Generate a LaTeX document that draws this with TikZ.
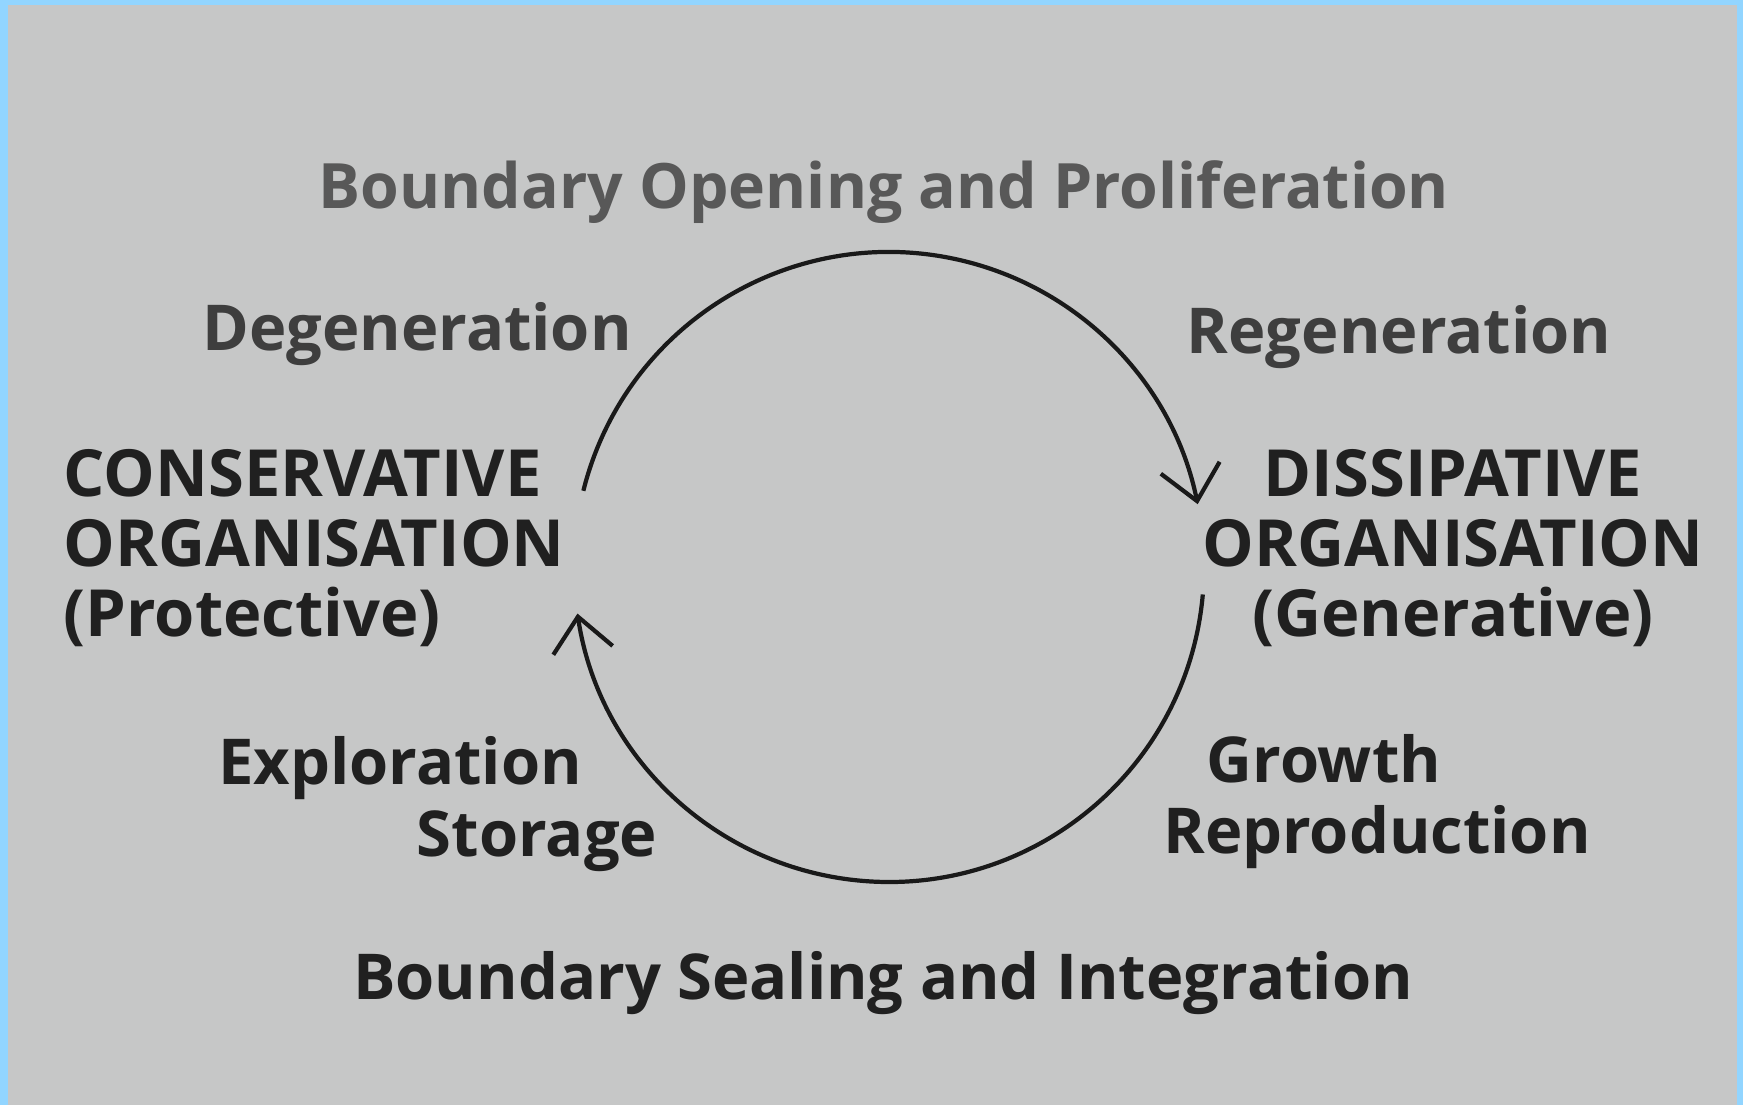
\documentclass[tikz,border=0pt]{standalone}
\usepackage{fontspec}
\setmainfont{Open Sans}
\usepackage{xcolor}
\usepackage{tikz}
\usetikzlibrary{arrows.meta,calc,positioning}

\definecolor{framesky}{RGB}{146,213,255}
\definecolor{paper}{RGB}{198,199,199}
\definecolor{inkdark}{RGB}{32,32,32}
\definecolor{inkmid}{RGB}{62,62,62}
\definecolor{inklight}{RGB}{88,88,88}

\tikzset{
  label/.style={font=\fontsize{18}{21}\selectfont\bfseries, text=inkdark, inner sep=0pt},
  statebox/.style={label, font=\fontsize{18.5}{20}\selectfont\bfseries},
  cyclearc/.style={line width=1.2pt, draw=black!90, -{Straight Barb[length=3.4mm, width=6mm, line width=1.2pt]}},
}

\begin{document}
\begin{tikzpicture}
		% Background: blue frame and the grey sheet
		\fill[framesky] (0,0) rectangle (17.43,11.05);
		\fill[paper] (0.08,0) rectangle (17.37,11.00);
		\useasboundingbox (0,0) rectangle (17.43,11.05);
		
		% Top and bottom titles
		\node (opening) [label, text=inklight, font=\fontsize{17.8}{21}\selectfont\bfseries] at (8.84,9.13) {Boundary Opening and Proliferation};
		\node (sealing) [label] at (8.83,1.22) {Boundary Sealing and Integration};
		
		% The two states on either side of the cycle
		\node (conservative) [statebox, align=left, anchor=west] at (0.63,5.57) {CONSERVATIVE\\ORGANISATION\\(Protective)};
		\node (dissipative) [statebox, align=center] at (14.53,5.57) {DISSIPATIVE\\ORGANISATION\\(Generative)};
		
		% Labels round the cycle
		\node (degeneration) [label, text=inkmid] at (4.17,7.71) {Degeneration};
		\node (regeneration) [label, text=inkmid] at (13.99,7.68) {Regeneration};
		\node (exploration) [label] at (4.00,3.37) {Exploration};
		\node (storage) [label] at (5.37,2.64) {Storage};
		\node (growth) [label] at (13.24,3.46) {Growth};
		\node (reproduction) [label] at (13.77,2.68) {Reproduction};
		
		% The cycle: two arcs round a common centre
		\coordinate (cycle) at (8.89,5.38);
		\coordinate (upstart) at ($(cycle)+(166:3.15)$);
		\coordinate (downstart) at ($(cycle)+(-5:3.15)$);
		\draw[cyclearc] (upstart) arc[start angle=166, end angle=11.5, radius=3.15];
		\draw[cyclearc] (downstart) arc[start angle=-5, end angle=-171.5, radius=3.15];
	\end{tikzpicture}
\end{document}
